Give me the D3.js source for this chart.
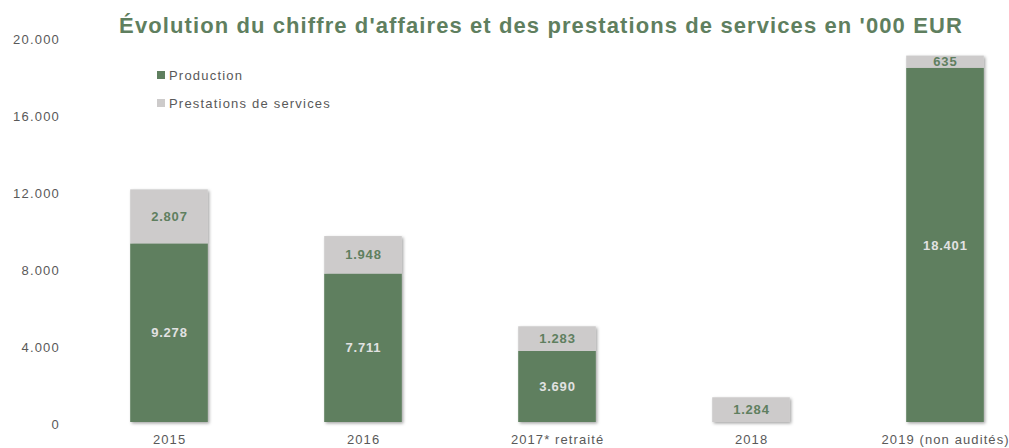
<!DOCTYPE html>
<html><head><meta charset="utf-8">
<script src="https://cdn.jsdelivr.net/npm/d3@7"></script>
<style>body{margin:0;background:#fff}svg{display:block}</style>
</head><body>
<script>
const categories = ["2015", "2016", "2017* retraité", "2018", "2019 (non audités)"];
const production = [9278, 7711, 3690, 0, 18401];
const prestations = [2807, 1948, 1283, 1284, 635];
const yTicks = [0, 4000, 8000, 12000, 16000, 20000];
const seriesNames = ["Production", "Prestations de services"];
const colors = ["#5f7f5f", "#cdcbcb"];
const labelColors = ["#e2e2e2", "#5f7f5f"];
const title = "Évolution du chiffre d'affaires et des prestations de services en '000 EUR";

const W = 1009, H = 448;
const FONT = "Liberation Sans, Arial, sans-serif";
const svg = d3.select("body").append("svg").attr("width", W).attr("height", H);
const defs = svg.append("defs");
const f = defs.append("filter").attr("id","sh").attr("x","-20%").attr("y","-20%").attr("width","140%").attr("height","140%");
f.append("feDropShadow").attr("dx",1.5).attr("dy",1.5).attr("stdDeviation",1.5).attr("flood-color","#000").attr("flood-opacity",0.35);

const fmt = v => d3.format(",")(v).replace(/,/g, ".");
const x = d3.scaleBand().domain(categories).range([72, 1042]).paddingInner(0.6).paddingOuter(0.3);
const y = d3.scaleLinear().domain([0, 20000]).range([422, 37]);

// y axis labels
const yAxis = d3.axisLeft(y).tickValues(yTicks).tickFormat(fmt).tickSize(0).tickPadding(0);
const ya = svg.append("g").attr("transform","translate(60,2)").call(yAxis);
ya.select(".domain").remove();
ya.selectAll("text").attr("fill","#595959").style("font-family",FONT).style("font-size","13px").style("letter-spacing","1.2px");

// x axis labels
const xAxis = d3.axisBottom(x).tickSize(0).tickPadding(0);
const xa = svg.append("g").attr("transform","translate(0,435)").call(xAxis);
xa.select(".domain").remove();
xa.selectAll("text").attr("fill","#595959").attr("dx","0.6px").style("font-family",FONT).style("font-size","13px").style("letter-spacing","1.1px");

const stacked = d3.stack().keys([0,1]).value((d,k)=>d[k])(categories.map((c,i)=>[production[i], prestations[i]]));

const bars = svg.append("g").attr("filter","url(#sh)");
stacked.forEach((layer, li) => {
  bars.selectAll(null).data(layer).join("rect")
    .attr("x",(d,i)=>x(categories[i]))
    .attr("width",x.bandwidth())
    .attr("y",d=>y(d[1]))
    .attr("height",d=>y(d[0])-y(d[1]))
    .attr("fill",colors[li]);
});

const labels = svg.append("g").style("font-family",FONT).style("font-size","13px").style("font-weight","bold").style("letter-spacing","0.8px").attr("text-anchor","middle");
stacked.forEach((layer, li) => {
  const items = layer.map((d,i)=>({d,i})).filter(o=>o.d[1]-o.d[0]>0);
  labels.selectAll(null).data(items).join("text")
    .attr("x",o=>x(categories[o.i])+x.bandwidth()/2+0.4)
    .attr("y",o=>(y(o.d[0])+y(o.d[1]))/2)
    .attr("dy","0.36em")
    .attr("fill",labelColors[li])
    .text(o=>fmt(o.d[1]-o.d[0]));
});

// title
svg.append("text").attr("x",541).attr("y",33).attr("text-anchor","middle")
  .style("font-family",FONT).style("font-size","22px").style("font-weight","bold").style("letter-spacing","1.1px")
  .attr("fill","#5f7f5f").text(title);

// legend
const lg = svg.append("g").style("font-family",FONT).style("font-size","13px").style("letter-spacing","1.2px");
seriesNames.forEach((n,i)=>{
  const yy = 75 + i*28;
  lg.append("rect").attr("x",157).attr("y",yy-4).attr("width",8).attr("height",8).attr("fill",colors[i]);
  lg.append("text").attr("x",169).attr("y",yy).attr("dy","0.35em").attr("fill","#595959").text(n);
});
</script>
</body></html>
